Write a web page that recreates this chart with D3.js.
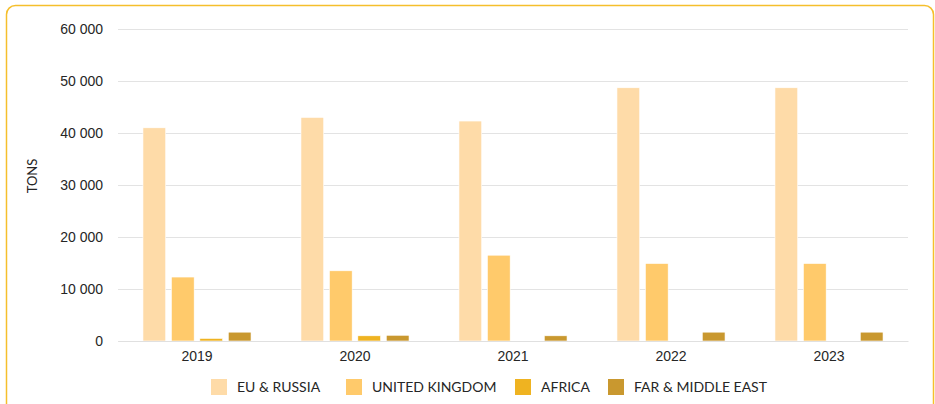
<!DOCTYPE html>
<html><head><meta charset="utf-8">
<script src="https://cdn.jsdelivr.net/npm/d3@7"></script>
<style>body{margin:0;background:#fff;}svg{display:block;font-family:Lato,"Open Sans",sans-serif;}</style>
</head><body>
<svg id="c" width="935" height="404"></svg>
<script>
const years = ["2019","2020","2021","2022","2023"];
const seriesNames = ["EU & RUSSIA","UNITED KINGDOM","AFRICA","FAR & MIDDLE EAST"];
const euRussia = [41000, 43000, 42300, 48700, 48700];
const unitedKingdom = [12300, 13500, 16500, 14900, 14900];
const africa = [500, 1000, 0, 0, 0];
const farMiddleEast = [1700, 1100, 1000, 1700, 1700];
const yTicks = [0, 10000, 20000, 30000, 40000, 50000, 60000];
const colors = ["#FEDBA8", "#FFCA6B", "#EFB321", "#C9982F"];

const series = [euRussia, unitedKingdom, africa, farMiddleEast];
const svg = d3.select("#c");

svg.append("rect").attr("x",6.5).attr("y",5.5).attr("width",927).attr("height",420)
  .attr("rx",9).attr("fill","#fff").attr("stroke","#F5BF2C").attr("stroke-width",1.5);

const pLeft = 118, pRight = 908, pTop = 29, pBottom = 341;
const y = d3.scaleLinear().domain([0,60000]).range([pBottom, pTop]);
const x0 = d3.scaleBand().domain(years).range([pLeft,pRight]).paddingInner(0.316).paddingOuter(0.158);
const x1 = d3.scaleBand().domain(d3.range(4)).range([0, x0.bandwidth()]).paddingInner(0.2).paddingOuter(0);

const fmt = v => d3.format(",")(v).replace(/,/g, " ");

// grid
const yAxis = d3.axisLeft(y).tickValues(yTicks).tickSize(-(pRight-pLeft)).tickPadding(15).tickFormat(fmt);
const gy = svg.append("g").attr("transform",`translate(${pLeft},0)`).call(yAxis);
gy.select(".domain").remove();
gy.selectAll("line").attr("stroke","#E3E3E3").attr("stroke-width",1);
gy.selectAll("text").attr("fill","#262626").style("font-size","14px").attr("x",-15);

// bars
const groups = svg.append("g").selectAll("g").data(years).join("g")
  .attr("transform", d => `translate(${x0(d)},0)`);
groups.selectAll("rect").data((d,i) => series.map((s,k) => ({k, v: s[i]})).filter(e => e.v > 0)).join("rect")
  .attr("x", d => x1(d.k)).attr("width", x1.bandwidth())
  .attr("y", d => y(d.v)).attr("height", d => y(0) - y(d.v))
  .attr("fill", d => colors[d.k]).attr("stroke","#fff").attr("stroke-width",0.6);

// x axis
const xAxis = d3.axisBottom(x0).tickSize(0).tickPadding(10);
const gx = svg.append("g").attr("transform",`translate(0,${pBottom})`).call(xAxis);
gx.select(".domain").attr("stroke","#E0E0E0");
gx.selectAll("text").attr("fill","#262626").style("font-size","14px");

// y title
svg.append("text").attr("transform","translate(37,176) rotate(-90)")
  .attr("text-anchor","middle").attr("fill","#262626").style("font-size","13px").text("TONS");

// legend
const legX = [211, 346, 515, 608];
const lg = svg.append("g").selectAll("g").data(seriesNames).join("g")
  .attr("transform",(d,i)=>`translate(${legX[i]},379)`);
lg.append("rect").attr("width",16).attr("height",16).attr("fill",(d,i)=>colors[i]);
lg.append("text").attr("x",26).attr("y",13).attr("fill","#262626").style("font-size","14px").text(d=>d);
</script>
</body></html>
